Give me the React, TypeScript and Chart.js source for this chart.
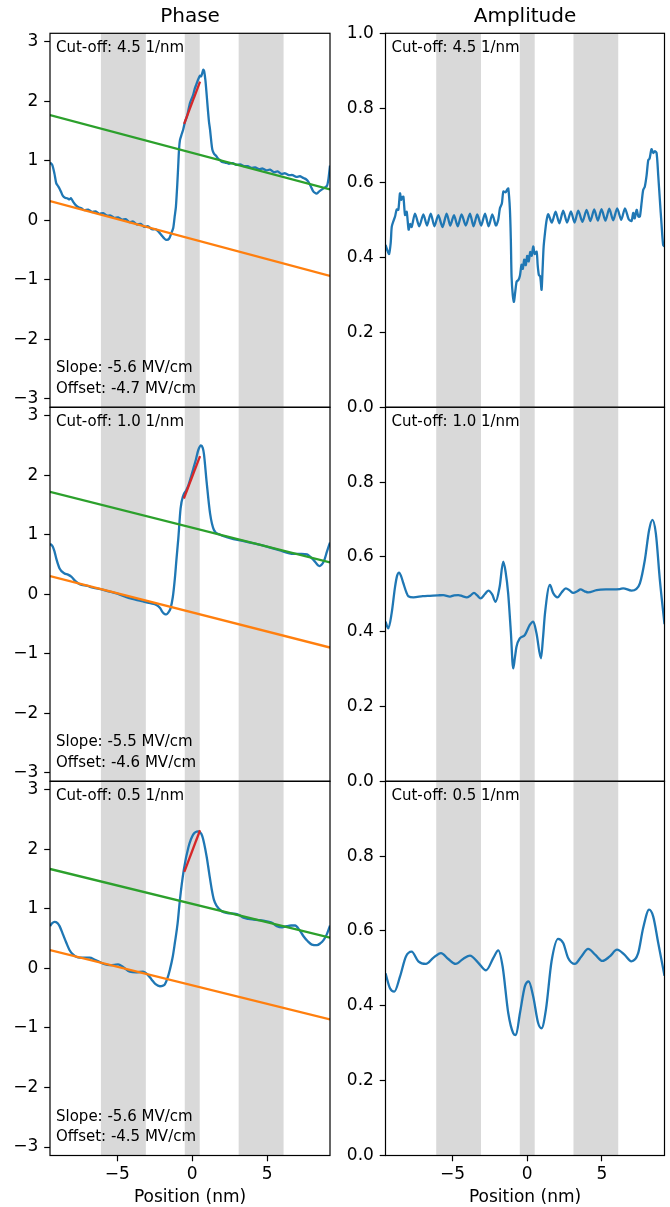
import React, { useEffect, useRef } from "react";
import { Chart, registerables } from "chart.js";

Chart.register(...registerables);
Chart.defaults.font.family = "'DejaVu Sans', sans-serif";
Chart.defaults.color = "#000";

// ---------- axes / categories ----------
const X_MIN = -9.5;
const X_MAX = 9.2;
const X_TICKS = [-5, 0, 5];
const PHASE_MIN = -3.1416;
const PHASE_MAX = 3.1416;
const PHASE_TICKS = [-3, -2, -1, 0, 1, 2, 3];
const AMP_TICKS_TOP = [0, 0.2, 0.4, 0.6, 0.8, 1.0];
const AMP_TICKS = [0, 0.2, 0.4, 0.6, 0.8];
const BANDS: [number, number][] = [
  [-6.1, -3.1],
  [-0.5, 0.5],
  [3.1, 6.1],
];
const CUTOFFS = ["4.5", "1.0", "0.5"];
const SLOPES = ["-5.6", "-5.5", "-5.6"];
const OFFSETS = ["-4.7", "-4.6", "-4.5"];

// ---------- phase, cut-off 4.5 ----------
const PHASE_45_X = [
  -9.5, -9.35, -9.2, -9.08, -8.95, -8.86, -8.75, -8.64, -8.5, -8.35, -8.2, -8.1, -7.95, -7.8, -7.6,
  -7.4, -7.2, -6.95, -6.7, -6.45, -6.2, -5.95, -5.7, -5.45, -5.2, -4.95, -4.7, -4.45, -4.2, -3.95,
  -3.7, -3.45, -3.2, -2.95, -2.7, -2.45, -2.25, -2.05, -1.85, -1.71, -1.55, -1.4, -1.27, -1.18,
  -1.09, -1.0, -0.94, -0.88, -0.82, -0.7, -0.6, -0.49, -0.35, -0.15, 0.05, 0.18, 0.3, 0.4, 0.52,
  0.6, 0.74, 0.8, 0.88, 0.95, 1.03, 1.12, 1.19, 1.28, 1.34, 1.45, 1.6, 1.75, 1.86, 2.0, 2.2, 2.45,
  2.7, 2.95, 3.2, 3.45, 3.7, 3.95, 4.2, 4.45, 4.7, 4.95, 5.2, 5.45, 5.7, 5.95, 6.2, 6.45, 6.7,
  6.95, 7.2, 7.43, 7.6, 7.75, 7.9, 8.05, 8.2, 8.33, 8.5, 8.67, 8.85, 9.0, 9.1, 9.2,
];
const PHASE_45_Y = [
  0.97, 0.93, 0.78, 0.62, 0.57, 0.53, 0.47, 0.41, 0.38, 0.37, 0.35, 0.37, 0.31, 0.26, 0.22,
  0.2, 0.17, 0.18, 0.14, 0.15, 0.11, 0.12, 0.08, 0.08, 0.04, 0.05, 0.01, 0.02, -0.03, -0.02,
  -0.07, -0.06, -0.11, -0.1, -0.15, -0.15, -0.19, -0.25, -0.31, -0.33, -0.31, -0.22, -0.13, 0.05,
  0.23, 0.6, 0.9, 1.2, 1.35, 1.45, 1.53, 1.65, 1.75, 1.97, 2.1, 2.22, 2.3, 2.37, 2.43,
  2.42, 2.53, 2.5, 2.35, 2.15, 1.9, 1.65, 1.52, 1.3, 1.19, 1.12, 1.08, 1.03, 1.01, 0.98, 0.97, 0.95,
  0.96, 0.93, 0.94, 0.91, 0.91, 0.88, 0.89, 0.86, 0.87, 0.84, 0.85, 0.81, 0.82, 0.78, 0.79, 0.76, 0.76,
  0.73, 0.74, 0.71, 0.69, 0.65, 0.58, 0.5, 0.46, 0.45, 0.49, 0.52, 0.55, 0.58, 0.7, 0.92,
];

// ---------- phase, cut-off 1.0 ----------
const PHASE_10_X = [
  -9.5, -9.31, -9.2, -9.08, -8.86, -8.53, -8.3, -8.08, -7.8, -7.52, -7.0, -6.63, -6.0, -5.51, -5.0,
  -4.4, -3.8, -3.28, -2.8, -2.39, -2.15, -2.01, -1.85, -1.72, -1.58, -1.45, -1.3, -1.16, -1.05,
  -0.93, -0.78, -0.6, -0.4, -0.26, 0.07, 0.25, 0.4, 0.58, 0.7, 0.78, 0.96, 1.19, 1.45, 1.86, 2.3,
  2.75, 3.5, 4.2, 4.98, 5.8, 6.77, 7.3, 7.66, 8.11, 8.49, 8.78, 9.0, 9.2,
];
const PHASE_10_Y = [
  0.85, 0.8, 0.72, 0.6, 0.435, 0.35, 0.33, 0.296, 0.22, 0.168, 0.14, 0.11, 0.08, 0.044, 0.01,
  -0.05, -0.09, -0.12, -0.15, -0.18, -0.23, -0.29, -0.33, -0.336, -0.3, -0.236, -0.05, 0.268, 0.6,
  0.94, 1.44, 1.66, 1.75, 1.83, 2.11, 2.27, 2.42, 2.5, 2.46, 2.36, 1.89, 1.36, 1.08, 1.0, 0.96,
  0.928, 0.89, 0.85, 0.8, 0.74, 0.68, 0.68, 0.67, 0.575, 0.475, 0.55, 0.72, 0.87,
];

// ---------- phase, cut-off 0.5 ----------
const PHASE_05_X = [
  -9.5, -9.35, -9.2, -9.0, -8.86, -8.65, -8.41, -8.2, -7.97, -7.75, -7.52, -7.2, -6.85, -6.5, -6.18,
  -5.85, -5.51, -5.2, -4.95, -4.6, -4.17, -3.75, -3.28, -3.0, -2.72, -2.45, -2.16, -1.95, -1.83,
  -1.65, -1.49, -1.3, -1.16, -0.98, -0.82, -0.56, -0.26, 0.07, 0.4, 0.67, 0.96, 1.13, 1.3, 1.45,
  1.63, 1.97, 2.35, 2.75, 3.1, 3.42, 3.75, 4.08, 4.5, 4.98, 5.3, 5.65, 6.0, 6.32, 6.6, 6.87, 7.15,
  7.43, 7.7, 7.99, 8.33, 8.55, 8.78, 9.0, 9.2,
];
const PHASE_05_Y = [
  0.71, 0.76, 0.78, 0.76, 0.71, 0.58, 0.43, 0.31, 0.235, 0.195, 0.18, 0.18, 0.18, 0.145, 0.107,
  0.07, 0.056, 0.06, 0.067, 0.02, -0.056, -0.065, -0.056, -0.1, -0.185, -0.265, -0.3, -0.29, -0.27,
  -0.16, -0.017, 0.2, 0.43, 0.75, 1.16, 1.66, 2.03, 2.25, 2.3, 2.22, 1.88, 1.6, 1.33, 1.15,
  1.05, 0.96, 0.93, 0.92, 0.9, 0.85, 0.83, 0.82, 0.81, 0.79, 0.77, 0.71, 0.69, 0.71, 0.72, 0.72, 0.65,
  0.54, 0.46, 0.4, 0.39, 0.42, 0.48, 0.58, 0.72,
];

// ---------- amplitude, cut-off 4.5 ----------
const AMP_45_X = [
  -9.5, -9.38, -9.26, -9.15, -9.08, -8.95, -8.86, -8.75, -8.64, -8.53, -8.45, -8.38, -8.3, -8.19,
  -8.08, -7.95, -7.85, -7.75, -7.52, -7.24, -6.96, -6.72, -6.47, -6.22, -5.96, -5.68, -5.4, -5.16,
  -4.91, -4.66, -4.4, -4.12, -3.84, -3.6, -3.35, -3.09, -2.83, -2.59, -2.34, -2.1, -1.95, -1.83,
  -1.7, -1.6, -1.45, -1.35, -1.27, -1.16, -1.1, -1.05, -0.97, -0.89, -0.8, -0.71, -0.6, -0.49,
  -0.38, -0.3, -0.2, -0.1, 0.0, 0.1, 0.2, 0.3, 0.4, 0.5, 0.63, 0.7, 0.78, 0.87, 0.96, 1.03, 1.1,
  1.2, 1.3, 1.41, 1.65, 1.9, 2.15, 2.41, 2.67, 2.93, 3.17, 3.42, 3.7, 3.98, 4.23, 4.49, 4.73, 4.98,
  5.24, 5.5, 5.76, 6.03, 6.3, 6.55, 6.8, 6.99, 7.1, 7.2, 7.33, 7.45, 7.55, 7.66, 7.77, 7.88, 8.0,
  8.11, 8.2, 8.33, 8.45, 8.55, 8.67, 8.78, 8.89, 9.0, 9.11, 9.2,
];
const AMP_45_Y = [
  0.434, 0.42, 0.41, 0.44, 0.483, 0.5, 0.51, 0.529, 0.528, 0.572, 0.555, 0.562, 0.563, 0.514,
  0.523, 0.475, 0.49, 0.482, 0.518, 0.484, 0.516, 0.486, 0.518, 0.484, 0.514, 0.482, 0.518, 0.486,
  0.514, 0.484, 0.516, 0.486, 0.518, 0.484, 0.516, 0.486, 0.518, 0.484, 0.516, 0.486, 0.5, 0.532,
  0.545, 0.577, 0.575, 0.582, 0.585, 0.528, 0.45, 0.349, 0.3, 0.282, 0.31, 0.336, 0.34, 0.352,
  0.381, 0.37, 0.395, 0.38, 0.405, 0.39, 0.415, 0.405, 0.43, 0.41, 0.416, 0.38, 0.354, 0.35, 0.314,
  0.37, 0.43, 0.47, 0.501, 0.516, 0.494, 0.523, 0.492, 0.526, 0.494, 0.524, 0.494, 0.526, 0.496, 0.528,
  0.498, 0.529, 0.499, 0.53, 0.499, 0.531, 0.5, 0.532, 0.501, 0.532, 0.503, 0.498, 0.52, 0.505,
  0.528, 0.51, 0.51, 0.545, 0.581, 0.59, 0.62, 0.661, 0.665, 0.69, 0.68, 0.685, 0.68, 0.62, 0.554,
  0.49, 0.434, 0.43,
];

// ---------- amplitude, cut-off 1.0 ----------
const AMP_10_X = [
  -9.5, -9.31, -9.09, -8.86, -8.72, -8.59, -8.45, -8.3, -8.1, -7.97, -7.63, -7.0, -6.52, -6.0,
  -5.63, -5.18, -4.9, -4.62, -4.35, -4.06, -3.8, -3.57, -3.35, -3.13, -2.85, -2.61, -2.35, -2.12,
  -1.85, -1.61, -1.45, -1.28, -1.1, -0.94, -0.83, -0.72, -0.5, -0.16, 0.17, 0.4, 0.62, 0.92, 1.05,
  1.19, 1.52, 1.74, 2.03, 2.3, 2.59, 2.85, 3.08, 3.35, 3.57, 3.85, 4.09, 4.65, 5.32, 6.21, 6.43,
  6.99, 7.3, 7.55, 7.88, 8.17, 8.39, 8.62, 8.89, 9.2,
];
const AMP_10_Y = [
  0.427, 0.409, 0.449, 0.52, 0.55, 0.558, 0.548, 0.529, 0.505, 0.495, 0.492, 0.495, 0.496, 0.497,
  0.498, 0.494, 0.497, 0.498, 0.495, 0.492, 0.497, 0.504, 0.497, 0.489, 0.5, 0.51, 0.5, 0.48,
  0.52, 0.587, 0.56, 0.503, 0.4, 0.302, 0.33, 0.36, 0.382, 0.391, 0.418, 0.427, 0.396, 0.329, 0.38,
  0.449, 0.525, 0.503, 0.492, 0.505, 0.516, 0.51, 0.504, 0.508, 0.513, 0.508, 0.505, 0.511, 0.513,
  0.514, 0.516, 0.51, 0.514, 0.529, 0.591, 0.672, 0.699, 0.663, 0.538, 0.42,
];

// ---------- amplitude, cut-off 0.5 ----------
const AMP_05_X = [
  -9.5, -9.2, -8.91, -8.53, -8.13, -7.75, -7.3, -6.79, -6.3, -5.78, -5.29, -4.8, -4.28, -3.84,
  -3.28, -2.76, -2.27, -1.94, -1.65, -1.27, -0.94, -0.76, -0.49, -0.16, 0.1, 0.4, 0.73, 0.96, 1.25,
  1.63, 2.07, 2.41, 2.74, 3.19, 3.63, 4.08, 4.57, 5.04, 5.53, 6.02, 6.53, 6.98, 7.43, 7.77, 8.17,
  8.44, 8.78, 9.2,
];
const AMP_05_Y = [
  0.487, 0.447, 0.438, 0.478, 0.532, 0.545, 0.519, 0.512, 0.528, 0.541, 0.525, 0.512, 0.526, 0.534,
  0.515, 0.495, 0.528, 0.548, 0.505, 0.38, 0.327, 0.322, 0.38, 0.452, 0.465, 0.425, 0.354, 0.34,
  0.389, 0.519, 0.579, 0.568, 0.528, 0.512, 0.532, 0.552, 0.536, 0.52, 0.532, 0.55, 0.536, 0.519,
  0.54, 0.608, 0.657, 0.639, 0.568, 0.48,
];

// ---------- linear fits (values at X_MIN and X_MAX) ----------
const ORANGE_FIT_Y = [
  [0.324, -0.935],
  [0.305, -0.894],
  [0.307, -0.856],
];
const GREEN_FIT_Y = [
  [1.767, 0.52],
  [1.72, 0.537],
  [1.67, 0.515],
];
// red segment over the barrier
const RED_FIT_X = [
  [-0.54, 0.52],
  [-0.56, 0.52],
  [-0.53, 0.52],
];
const RED_FIT_Y = [
  [1.62, 2.33],
  [1.61, 2.32],
  [1.62, 2.32],
];

const PHASE_SERIES_X = [PHASE_45_X, PHASE_10_X, PHASE_05_X];
const PHASE_SERIES_Y = [PHASE_45_Y, PHASE_10_Y, PHASE_05_Y];
const AMP_SERIES_X = [AMP_45_X, AMP_10_X, AMP_05_X];
const AMP_SERIES_Y = [AMP_45_Y, AMP_10_Y, AMP_05_Y];

// ---------- style ----------
const BLUE = "#1f77b4";
const ORANGE = "#ff7f0e";
const GREEN = "#2ca02c";
const RED = "#d62728";
const BAND = "#d9d9d9";
const TICK_FONT = 17;
const LINE_W = 2.3;

// ---------- layout ----------
const ROW_TOPS = [33.3, 407.3, 781.3];
const ROW_BOTTOMS = [407.3, 781.3, 1155.5];
const CANVAS_TOPS = [0, 385, 759];
const CANVAS_BOTTOMS = [429, 803, 1207];
const COL_LEFT = [0, 335];
const COL_W = 335;
const AXIS_W = [50, 50.5];
const PAD_R = [5, 5.5];

const zip = (xs: number[], ys: number[]) => xs.map((x, i) => ({ x, y: ys[i] }));
const minusFmt = (v: number) => (v < 0 ? "\u2212" + Math.abs(v) : String(v));

type PanelProps = {
  col: number;
  row: number;
};

function Panel({ col, row }: PanelProps) {
  const ref = useRef<HTMLCanvasElement>(null);
  const canvasTop = CANVAS_TOPS[row];
  const canvasH = CANVAS_BOTTOMS[row] - canvasTop;
  const isPhase = col === 0;

  useEffect(() => {
    const smooth = row > 0;
    const xs = isPhase ? PHASE_SERIES_X[row] : AMP_SERIES_X[row];
    const ys = isPhase ? PHASE_SERIES_Y[row] : AMP_SERIES_Y[row];
    const datasets: any[] = [
      {
        data: zip(xs, ys),
        borderColor: BLUE,
        borderWidth: LINE_W,
        pointRadius: 0,
        tension: smooth ? 0 : 0.25,
        cubicInterpolationMode: smooth ? "monotone" : "default",
        order: 4,
      },
    ];
    if (isPhase) {
      datasets.push(
        {
          data: zip([X_MIN, X_MAX], ORANGE_FIT_Y[row]),
          borderColor: ORANGE,
          borderWidth: LINE_W,
          pointRadius: 0,
          order: 3,
        },
        {
          data: zip([X_MIN, X_MAX], GREEN_FIT_Y[row]),
          borderColor: GREEN,
          borderWidth: LINE_W,
          pointRadius: 0,
          order: 2,
        },
        {
          data: zip(RED_FIT_X[row], RED_FIT_Y[row]),
          borderColor: RED,
          borderWidth: LINE_W,
          pointRadius: 0,
          order: 1,
        }
      );
    }
    const yTicks = isPhase ? PHASE_TICKS : row === 0 ? AMP_TICKS_TOP : AMP_TICKS;
    const topText = "Cut-off: " + CUTOFFS[row] + " 1/nm";
    const bottomTexts = isPhase
      ? ["Slope: " + SLOPES[row] + " MV/cm", "Offset: " + OFFSETS[row] + " MV/cm"]
      : [];

    const deco = {
      id: "deco",
      beforeDatasetsDraw(chart: any) {
        const { ctx, chartArea: a, scales } = chart;
        const x = scales.x;
        ctx.save();
        ctx.fillStyle = BAND;
        for (const [b0, b1] of BANDS) {
          const p0 = x.getPixelForValue(b0);
          const p1 = x.getPixelForValue(b1);
          ctx.fillRect(p0, a.top, p1 - p0, a.bottom - a.top);
        }
        ctx.restore();
      },
      afterDatasetsDraw(chart: any) {
        const { ctx, chartArea: a } = chart;
        ctx.save();
        ctx.strokeStyle = "#000";
        ctx.lineWidth = 1.2;
        ctx.strokeRect(a.left, a.top, a.right - a.left, a.bottom - a.top);
        ctx.fillStyle = "#000";
        ctx.font = "15px 'DejaVu Sans', sans-serif";
        ctx.textAlign = "left";
        ctx.textBaseline = "alphabetic";
        ctx.fillText(topText, a.left + 6, a.top + 18.5);
        if (bottomTexts.length) {
          ctx.fillText(bottomTexts[0], a.left + 6, a.bottom - 35);
          ctx.fillText(bottomTexts[1], a.left + 6, a.bottom - 14.3);
        }
        ctx.restore();
      },
    };

    const chart = new Chart(ref.current as HTMLCanvasElement, {
      type: "line",
      data: { datasets },
      plugins: [deco],
      options: {
        responsive: false,
        animation: false,
        events: [],
        layout: {
          padding: {
            top: row === 0 ? 0 : ROW_TOPS[row] - canvasTop,
            bottom: row === 2 ? 0 : CANVAS_BOTTOMS[row] - ROW_BOTTOMS[row],
            left: 0,
            right: PAD_R[col],
          },
        },
        plugins: {
          legend: { display: false },
          tooltip: { enabled: false },
          title:
            row === 0
              ? {
                  display: true,
                  text: isPhase ? "Phase" : "Amplitude",
                  fullSize: false,
                  color: "#000",
                  font: { size: 20, weight: "normal" },
                  padding: { top: 4.3, bottom: 33.3 - 24 - 4.3 },
                }
              : { display: false },
        },
        scales: {
          x: {
            type: "linear",
            min: X_MIN,
            max: X_MAX,
            display: row === 2,
            afterBuildTicks: (s: any) => {
              s.ticks = X_TICKS.map((v) => ({ value: v }));
            },
            afterFit: (s: any) => {
              if (row === 2) s.height = CANVAS_BOTTOMS[2] - ROW_BOTTOMS[2];
            },
            ticks: {
              callback: (v: any) => minusFmt(Number(v)),
              font: { size: TICK_FONT },
              color: "#000",
              padding: 3,
              maxRotation: 0,
              autoSkip: false,
            },
            grid: {
              drawOnChartArea: false,
              drawTicks: true,
              tickLength: 5.8,
              tickWidth: 1.2,
              tickColor: "#000",
            },
            border: { display: false },
            title: {
              display: true,
              text: "Position (nm)",
              color: "#000",
              font: { size: TICK_FONT },
              padding: { top: 0, bottom: -1.2 },
            },
          },
          y: {
            type: "linear",
            min: isPhase ? PHASE_MIN : 0,
            max: isPhase ? PHASE_MAX : 1,
            afterBuildTicks: (s: any) => {
              s.ticks = yTicks.map((v) => ({ value: v }));
            },
            afterFit: (s: any) => {
              s.width = AXIS_W[col];
            },
            ticks: {
              callback: (v: any) => (isPhase ? minusFmt(Number(v)) : Number(v).toFixed(1)),
              font: { size: TICK_FONT },
              color: "#000",
              padding: 5.8,
              autoSkip: false,
            },
            grid: {
              drawOnChartArea: false,
              drawTicks: true,
              tickLength: 5.8,
              tickWidth: 1.2,
              tickColor: "#000",
            },
            border: { display: false },
          },
        },
      } as any,
    });
    return () => chart.destroy();
  }, [col, row]);

  return (
    <canvas
      ref={ref}
      width={COL_W}
      height={canvasH}
      style={{
        position: "absolute",
        left: COL_LEFT[col],
        top: canvasTop,
        width: COL_W,
        height: canvasH,
      }}
    />
  );
}

export default function App() {
  const panels = [];
  for (let row = 0; row < 3; row++) {
    for (let col = 0; col < 2; col++) {
      panels.push(<Panel key={row + "-" + col} col={col} row={row} />);
    }
  }
  return (
    <div
      style={{
        position: "absolute",
        left: 0,
        top: 0,
        width: 670,
        height: 1207,
        overflow: "hidden",
        background: "#fff",
      }}
    >
      {panels}
    </div>
  );
}
